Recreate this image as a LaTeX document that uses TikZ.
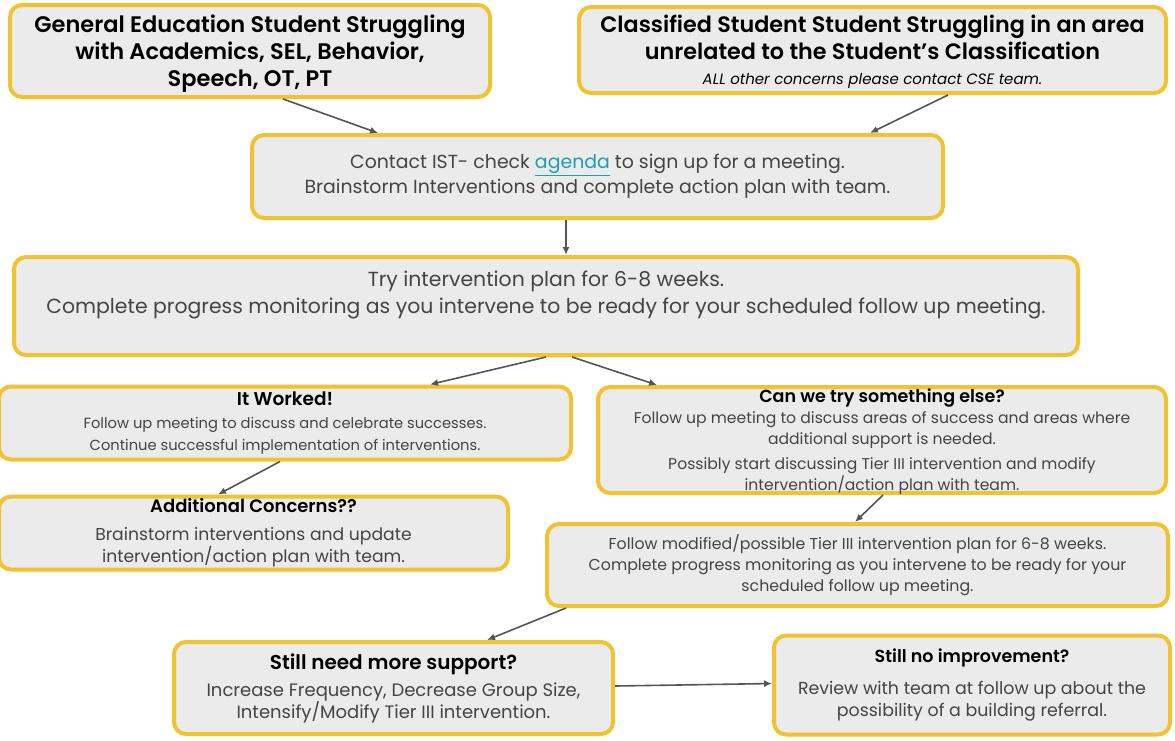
\documentclass[tikz,border=0pt]{standalone}
\usepackage{fontspec}
\setmainfont{Poppins}[BoldFont={Poppins SemiBold}]
\usetikzlibrary{arrows.meta}
\definecolor{boxfill}{HTML}{EBEBEB}
\definecolor{boxline}{HTML}{F1C232}
\definecolor{arrowgray}{HTML}{555555}
\definecolor{bodytext}{HTML}{444444}
\definecolor{linkteal}{HTML}{1E9FAE}
\tikzset{
  stepbox/.style={draw=boxline, line width=4pt, fill=boxfill, rounded corners=12pt,
    align=center, inner sep=2pt, text=bodytext},
  flow/.style={draw=arrowgray, line width=1.6pt, -{Latex[length=8pt,width=7pt]}}
}
\newcommand{\hd}[2]{{\bfseries\color{black}\fontsize{#1}{#1}\selectfont #2}}

\begin{document}
\begin{tikzpicture}[x=1pt,y=-1pt]
\useasboundingbox[fill=white] (0,0) rectangle (1175,740);
% who is struggling
\node[stepbox, minimum width=480pt, minimum height=92pt, text=black, text depth=-10.5pt,
  font=\bfseries\fontsize{22.5}{27}\selectfont] (gened) at (250,51)
  {General Education Student Struggling\\with Academics, SEL, Behavior,\\Speech, OT, PT};
\node[stepbox, minimum width=587pt, minimum height=86pt, text=black, text depth=-11pt,
  font=\bfseries\fontsize{22.3}{27}\selectfont] (classed) at (872.5,50)
  {Classified Student Student Struggling in an area\\unrelated to the Student's Classification\\[-2pt]
   {\mdseries\itshape\fontsize{15}{16}\selectfont ALL other concerns please contact CSE team.}};
% first meeting and the plan
\node[stepbox, minimum width=691pt, minimum height=83pt,
  font=\fontsize{18.9}{25}\selectfont] (ist) at (597.5,176.5)
  {Contact IST- check {\color{linkteal}\underline{agenda}} to sign up for a meeting.\\
   Brainstorm Interventions and complete action plan with team.};
\node[stepbox, minimum width=1064pt, minimum height=98pt, text depth=27pt,
  font=\fontsize{20.4}{27}\selectfont] (try) at (546,306)
  {Try intervention plan for 6-8 weeks.\\
   Complete progress monitoring as you intervene to be ready for your scheduled follow up meeting.};
% outcomes
\node[stepbox, minimum width=572pt, minimum height=73pt,
  font=\fontsize{14.7}{22}\selectfont] (worked) at (285,423)
  {\hd{18.5}{It Worked!}\\[1pt]
   Follow up meeting to discuss and celebrate successes.\\
   Continue successful implementation of interventions.};
\node[stepbox, minimum width=568pt, minimum height=106pt, text depth=-2pt,
  font=\fontsize{15.6}{21}\selectfont] (else) at (882,440)
  {\hd{17.5}{Can we try something else?}\\
   Follow up meeting to discuss areas of success and areas where\\
   additional support is needed.\\[4pt]
   Possibly start discussing Tier III intervention and modify\\
   intervention/action plan with team.};
\node[stepbox, minimum width=509pt, minimum height=73pt,
  font=\fontsize{17.2}{22}\selectfont] (concerns) at (253.5,533)
  {\hd{18}{Additional Concerns??}\\[6pt]
   Brainstorm interventions and update\\
   intervention/action plan with team.};
\node[stepbox, minimum width=621pt, minimum height=82pt,
  font=\fontsize{15.8}{21}\selectfont] (tier) at (857.5,565)
  {Follow modified/possible Tier III intervention plan for 6-8 weeks.\\
   Complete progress monitoring as you intervene to be ready for your\\
   scheduled follow up meeting.};
% last steps
\node[stepbox, minimum width=439pt, minimum height=92pt,
  font=\fontsize{18}{22}\selectfont] (more) at (393.5,688)
  {\hd{20}{Still need more support?}\\[5pt]
   Increase Frequency, Decrease Group Size,\\
   Intensify/Modify Tier III intervention.};
\node[stepbox, minimum width=396pt, minimum height=99pt,
  font=\fontsize{17.4}{22}\selectfont] (noimp) at (972,685)
  {\hd{17.5}{Still no improvement?}\\[10pt]
   Review with team at follow up about the\\
   possibility of a building referral.};
% connectors
\draw[flow] ([xshift=33pt]gened.south) -- ([xshift=-219.5pt]ist.north);
\draw[flow] ([xshift=75.5pt]classed.south) -- ([xshift=272.5pt]ist.north);
\draw[flow] ([xshift=-31.5pt]ist.south) -- ([xshift=20pt]try.north);
\draw[flow] (try.south) -- ([xshift=145pt]worked.north);
\draw[flow] ([xshift=26pt]try.south) -- ([xshift=-225pt]else.north);
\draw[flow] ([xshift=-5pt]worked.south) -- ([xshift=-35.5pt]concerns.north);
\draw[flow] ([xshift=1pt]else.south) -- ([xshift=-2.5pt]tier.north);
\draw[flow] ([xshift=-291.5pt]tier.south) -- ([xshift=93.5pt]more.north);
\draw[flow] ([yshift=2pt]more.east) -- ([yshift=1.5pt]noimp.west);
\end{tikzpicture}
\end{document}
